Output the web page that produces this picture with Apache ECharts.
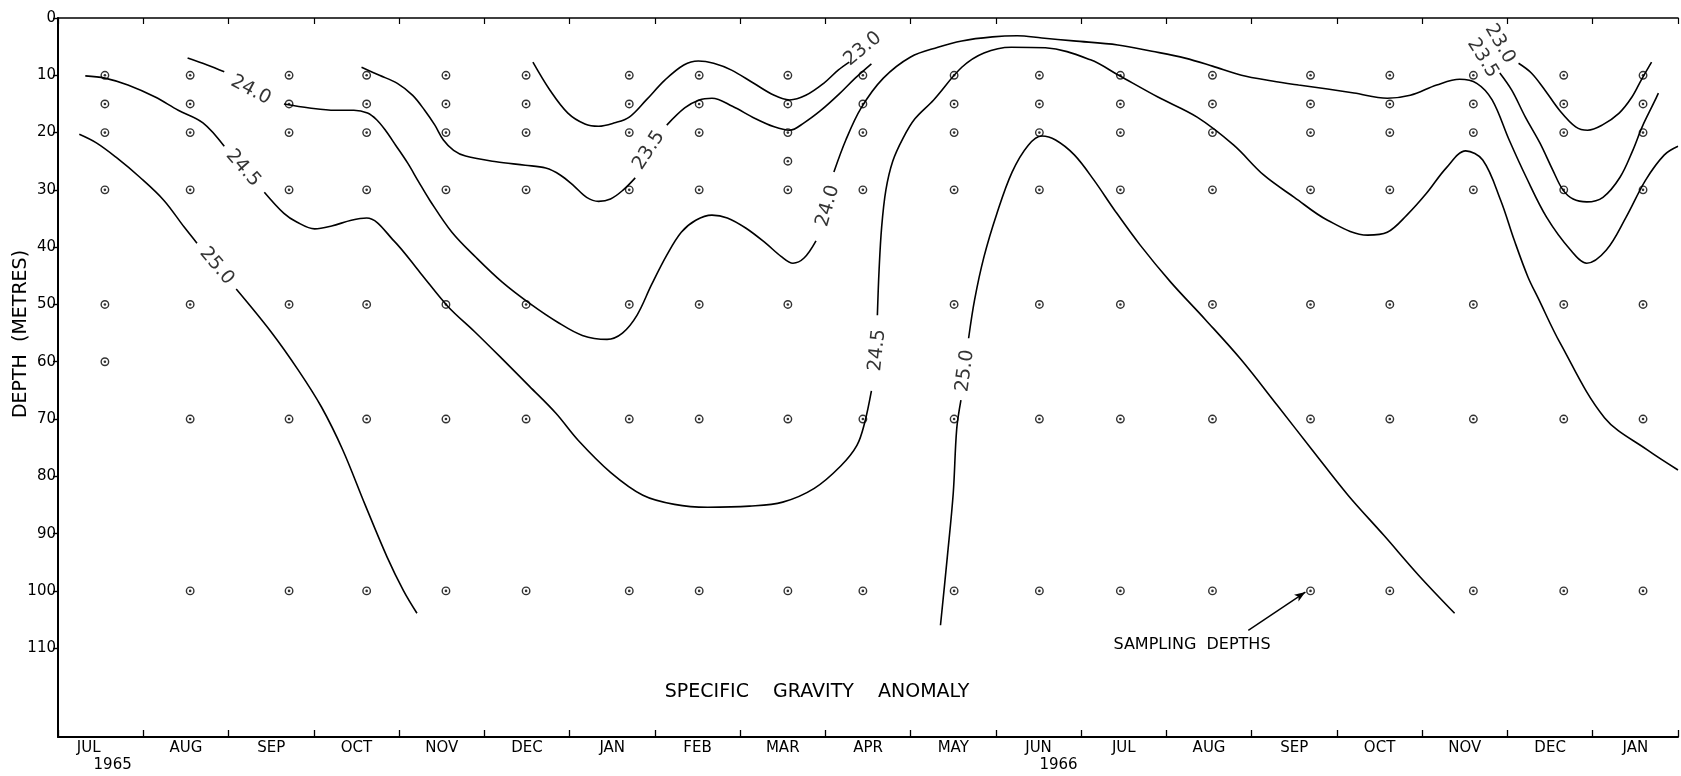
<!DOCTYPE html>
<html><head><meta charset="utf-8">
<script src="https://cdn.jsdelivr.net/npm/echarts/dist/echarts.min.js"></script>
<style>html,body{margin:0;padding:0;background:#fff}#c{width:1681px;height:776px}</style>
</head><body><div id="c"></div>
<script>
// ---- axes ----
const monthLabels = ['JUL','AUG','SEP','OCT','NOV','DEC','JAN','FEB','MAR','APR','MAY','JUN','JUL','AUG','SEP','OCT','NOV','DEC','JAN'];
const yearLabels = {0:'1965', 11:'1966'};
const depthTicks = [0,10,20,30,40,50,60,70,80,90,100,110];

// ---- sampling stations: time (months from 1 Jul 1965) and depths (m) ----
const sampleDates = [0.55,1.55,2.71,3.62,4.55,5.49,6.70,7.52,8.56,9.44,10.51,11.51,12.46,13.54,14.69,15.62,16.60,17.66,18.59];
const sampleDepths = [
  [10,15,20,30,50,60],
  [10,15,20,30,50,70,100],
  [10,15,20,30,50,70,100],
  [10,15,20,30,50,70,100],
  [10,15,20,30,50,70,100],
  [10,15,20,30,50,70,100],
  [10,15,20,30,50,70,100],
  [10,15,20,30,50,70,100],
  [10,15,20,25,30,50,70,100],
  [10,15,20,30,70,100],
  [10,15,20,30,50,70,100],
  [10,15,20,30,50,70,100],
  [10,15,20,30,50,70,100],
  [10,15,20,30,50,70,100],
  [10,15,20,30,50,70,100],
  [10,15,20,30,50,70,100],
  [10,15,20,30,50,70,100],
  [10,15,20,30,50,70,100],
  [10,15,20,30,50,70,100]
];

// ---- contour lines [month, depth] ----
const c250_left_a = [[0.25,20.3],[0.45,21.8],[0.68,24.3],[0.96,27.8],[1.24,31.8],[1.48,36.5],[1.63,39.3]];
const c250_left_b = [[2.09,47.3],[2.50,54.8],[2.82,61.5],[3.09,67.9],[3.34,75.4],[3.60,84.9],[3.86,94.1],[4.05,99.9],[4.21,103.9]];
const c245_a = [[0.32,10.1],[0.55,10.5],[0.82,11.7],[1.14,13.8],[1.41,16.1],[1.70,18.3],[1.95,22.4]];
const c245_b = [[2.42,30.4],[2.65,34.1],[2.80,35.6],[3.01,36.8],[3.21,36.3],[3.44,35.3],[3.62,34.9],[3.94,38.9],[4.25,44.5],[4.57,50.3],[4.89,54.8],[5.21,59.5],[5.53,64.3],[5.84,69.0],[6.10,73.7],[6.48,79.3],[6.86,83.3],[7.23,84.9],[7.62,85.4],[8.11,85.2],[8.50,84.5],[8.87,82.1],[9.18,78.2],[9.37,74.6],[9.46,70.7],[9.54,65.1]];
const c245_c = [[9.61,51.9],[9.63,44.0],[9.66,36.5],[9.71,30.0],[9.79,25.0],[9.91,21.0],[10.05,17.6],[10.27,14.3],[10.60,8.6],[10.86,6.1],[11.18,5.1],[11.58,5.2],[12.11,7.3],[12.44,10.0],[12.90,13.8],[13.36,17.3],[13.79,22.2],[14.14,27.4],[14.50,31.3],[14.89,35.3],[15.36,37.9],[15.59,37.4],[15.82,34.4],[16.05,30.6],[16.28,26.2],[16.51,23.2],[16.71,24.8],[16.92,31.8],[17.08,38.8],[17.24,45.2],[17.36,48.9],[17.62,56.8],[18.14,69.8],[18.64,75.4],[19.0,78.9]];
const c240_a = [[1.52,7.0],[1.75,8.2],[1.95,9.4]];
const c240_b = [[2.65,15.0],[2.95,15.7],[3.25,16.1],[3.47,16.1],[3.63,16.6],[3.74,17.8],[3.84,19.6],[3.96,22.2],[4.10,25.3],[4.23,28.6],[4.36,31.8],[4.62,37.4],[4.91,41.9],[5.21,46.1],[5.54,49.9],[5.86,53.1],[6.15,55.4],[6.44,56.1],[6.62,55.0],[6.79,51.9],[6.96,46.6],[7.14,41.4],[7.31,37.4],[7.48,35.3],[7.67,34.4],[7.85,34.9],[8.07,36.7],[8.30,39.3],[8.48,41.6],[8.62,42.8],[8.75,41.9],[8.89,38.9]];
const c240_c = [[9.10,26.9],[9.24,21.3],[9.42,15.7],[9.68,10.5],[10.00,6.8],[10.32,5.1],[10.60,4.0],[10.96,3.3],[11.25,3.1],[11.54,3.5],[11.91,4.0],[12.43,4.7],[12.83,5.8],[13.22,7.0],[13.54,8.4],[13.88,10.0],[14.24,11.0],[14.55,11.7],[14.89,12.4],[15.20,13.1],[15.59,14.0],[15.86,13.5],[16.17,11.7],[16.44,10.7],[16.64,11.4],[16.82,14.3],[17.02,21.3],[17.22,27.8],[17.46,34.8],[17.74,40.5],[17.93,42.8],[18.16,40.5],[18.39,34.8],[18.62,28.3],[18.84,23.9],[19.0,22.4]];
const c230_mid = [[5.57,7.7],[5.77,12.6],[5.98,16.6],[6.18,18.5],[6.34,18.9],[6.53,18.3],[6.70,17.3],[6.90,14.3],[7.12,10.8],[7.34,8.2],[7.51,7.5],[7.69,7.9],[7.90,9.1],[8.16,11.4],[8.40,13.5],[8.58,14.3],[8.77,13.5],[8.98,11.4],[9.15,9.1],[9.28,7.7]];
const c235_a = [[3.56,8.6],[3.77,10.0],[3.98,11.4],[4.16,13.5],[4.30,16.1],[4.42,18.7],[4.52,21.3],[4.64,23.1],[4.78,24.1],[5.14,25.1],[5.48,25.7],[5.72,26.2],[5.89,27.4],[6.05,29.3],[6.20,31.3],[6.34,32.0],[6.48,31.6],[6.63,30.0],[6.77,27.9]];
const c235_b = [[7.14,18.7],[7.35,15.7],[7.52,14.3],[7.67,14.0],[7.91,15.4],[8.17,17.5],[8.40,19.0],[8.58,19.6],[8.75,18.3],[8.95,16.1],[9.16,13.3],[9.35,10.5],[9.54,8.0]];
const c230_right = [[17.13,7.9],[17.28,9.6],[17.44,12.6],[17.61,16.1],[17.80,19.0],[17.94,19.6],[18.11,18.7],[18.31,16.6],[18.46,13.8],[18.57,10.8],[18.69,7.7]];
const c235_right = [[16.91,9.6],[17.05,12.6],[17.21,17.3],[17.38,21.8],[17.53,26.5],[17.65,30.0],[17.77,31.6],[17.93,32.1],[18.12,31.3],[18.32,27.8],[18.47,23.1],[18.58,19.0],[18.72,14.7],[18.77,13.1]];
const c250_right_a = [[10.35,106.0],[10.43,94.1],[10.50,82.9],[10.54,71.8],[10.59,66.7]];
const c250_right_b = [[10.68,55.9],[10.75,49.2],[10.86,41.7],[11.01,34.2],[11.19,26.9],[11.38,22.2],[11.54,20.6],[11.70,21.3],[11.92,23.9],[12.15,28.3],[12.39,33.5],[12.69,39.6],[13.05,46.1],[13.46,52.7],[13.88,59.7],[14.30,67.6],[14.71,75.4],[15.13,83.3],[15.55,90.3],[15.96,97.3],[16.38,103.9]];

// ---- contour labels: text, month, depth ----
const contourLabelText = ['24.0','24.5','25.0','23.0','23.5','24.0','24.5','25.0','23.0','23.5'];
const contourLabelPos = [[2.26,12.6],[2.17,26.2],[1.86,43.3],[9.44,5.4],[6.93,23.1],[9.03,32.8],[9.61,58.0],[10.64,61.6],[16.91,4.5],[16.71,7.0]];

// ---- annotation arrow (month, depth) ----
const arrowFrom = [13.96, 106.9];
const arrowTo = [14.63, 100.2];

// ================= build =================
const FONT = 'DejaVu Sans';
const INK = '#000';
const labelAngles = [-28,-49,-50,40,57,74,84,82,-60,-58];

const stationData = [];
sampleDates.forEach((t, i) => sampleDepths[i].forEach(d => stationData.push([t, d])));

const contours = [c250_left_a, c250_left_b, c245_a, c245_b, c245_c, c240_a, c240_b, c240_c,
  c230_mid, c235_a, c235_b, c230_right, c235_right, c250_right_a, c250_right_b];

const lineSeries = contours.map(seg => ({
  type: 'line', data: seg, smooth: 0.35, showSymbol: false, symbol: 'none',
  lineStyle: { color: INK, width: 1.6 }, silent: true, z: 2, xAxisIndex: 0, yAxisIndex: 0
}));

const labelData = contourLabelText.map((t, i) => ({
  name: t, value: contourLabelPos[i], label: { rotate: labelAngles[i] }
}));

const option = {
  animation: false,
  backgroundColor: '#fff',
  grid: { left: 58, right: 0, top: 18, bottom: 39 },
  xAxis: [
    { type: 'value', min: 0, max: 19, interval: 1, position: 'bottom',
      axisLine: { show: true, onZero: false, lineStyle: { color: INK, width: 2 } },
      axisTick: { show: true, inside: true, length: 7, lineStyle: { color: INK, width: 1.3 } },
      axisLabel: { show: false }, splitLine: { show: false } },
    { type: 'value', min: 0, max: 19, interval: 0.5, position: 'bottom',
      axisLine: { show: false, onZero: false }, axisTick: { show: false }, splitLine: { show: false },
      axisLabel: {
        show: true, margin: 3, color: INK,
        formatter: function (v) {
          const i = Math.floor(v + 1e-9);
          if (Math.abs(v - i - 0.5) > 1e-6 || i >= monthLabels.length) return '';
          const y = yearLabels[i];
          if (!y) return '{m|' + monthLabels[i] + '}';
          return i === 0 ? '{m0|' + monthLabels[i] + '}\n{y0|' + y + '}' : '{m|' + monthLabels[i] + '}\n{y|' + y + '}';
        },
        rich: {
          m: { fontSize: 15, fontFamily: FONT, color: INK, lineHeight: 17 },
          m0: { fontSize: 15, fontFamily: FONT, color: INK, lineHeight: 17, padding: [0, 24, 0, 0] },
          y0: { fontSize: 15, fontFamily: FONT, color: INK, lineHeight: 17, padding: [0, 0, 0, 24] },
          y: { fontSize: 15, fontFamily: FONT, color: INK, lineHeight: 17, padding: [0, 0, 0, 40] }
        }
      } },
    { type: 'value', min: 0, max: 19, interval: 1, position: 'top',
      axisLine: { show: true, onZero: false, lineStyle: { color: INK, width: 1.6 } },
      axisTick: { show: true, inside: true, length: 6, lineStyle: { color: INK, width: 1.2 } },
      axisLabel: { show: false }, splitLine: { show: false } }
  ],
  yAxis: [{
    type: 'value', inverse: true, min: 0, max: 125.5, position: 'left',
    axisLine: { show: true, onZero: false, lineStyle: { color: INK, width: 2 } },
    axisTick: { show: true, inside: false, length: 5, customValues: depthTicks, lineStyle: { color: INK, width: 1.4 } },
    axisLabel: { show: true, customValues: depthTicks, fontSize: 15, fontFamily: FONT, color: INK, margin: 2 },
    splitLine: { show: false }
  }],
  series: [
    ...lineSeries,
    { type: 'scatter', data: stationData, symbol: 'circle', symbolSize: 7.5, z: 4, silent: true,
      itemStyle: { color: 'rgba(255,255,255,0)', borderColor: INK, borderWidth: 1.4 },
      markLine: {
        silent: true, symbol: ['none', 'arrow'], symbolSize: [6, 11], animation: false,
        label: { show: false },
        lineStyle: { color: INK, width: 1.4, type: 'solid' },
        data: [[{ coord: arrowFrom }, { coord: arrowTo }]]
      } },
    { type: 'scatter', data: stationData, symbol: 'circle', symbolSize: 2.6, z: 5, silent: true,
      itemStyle: { color: INK } },
    { type: 'scatter', data: labelData, symbol: 'circle', symbolSize: 0, z: 6, silent: true,
      itemStyle: { color: 'rgba(0,0,0,0)' },
      label: { show: true, position: 'inside', formatter: '{b}', fontSize: 19, fontFamily: FONT, color: INK } }
  ],
  graphic: [
    { type: 'text', x: 21, y: 334, rotation: Math.PI / 2,
      style: { text: 'DEPTH  (METRES)', font: '19px "DejaVu Sans"', fill: INK,
        textAlign: 'center', textVerticalAlign: 'middle', align: 'center', verticalAlign: 'middle' } },
    { type: 'text', x: 817, y: 692,
      style: { text: 'SPECIFIC    GRAVITY    ANOMALY', font: '19px "DejaVu Sans"', fill: INK,
        textAlign: 'center', textVerticalAlign: 'middle', align: 'center', verticalAlign: 'middle' } },
    { type: 'text', x: 1192, y: 645,
      style: { text: 'SAMPLING  DEPTHS', font: '16px "DejaVu Sans"', fill: INK,
        textAlign: 'center', textVerticalAlign: 'middle', align: 'center', verticalAlign: 'middle' } }
  ]
};

const chart = echarts.init(document.getElementById('c'), null, { renderer: 'canvas' });
chart.setOption(option);
</script></body></html>
